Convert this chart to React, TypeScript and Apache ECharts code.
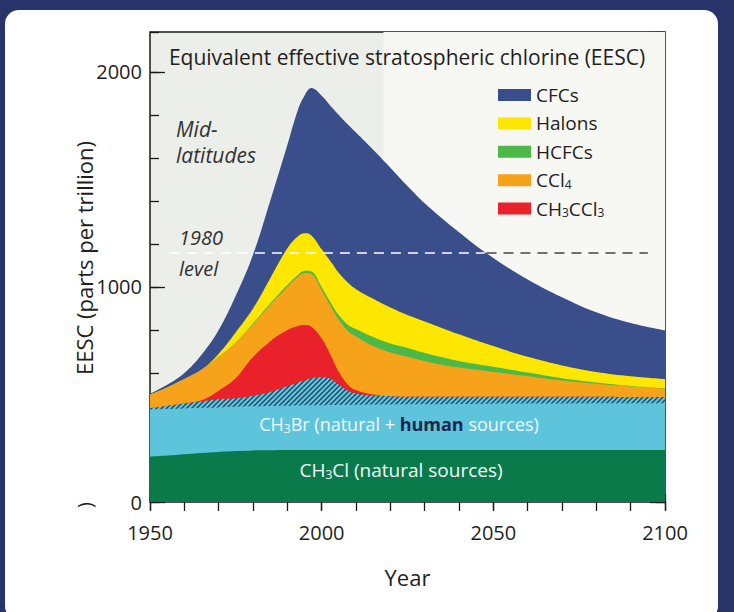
import React, { useEffect, useRef } from "react";
import * as echarts from "echarts";

const years = [1950,1955,1960,1965,1970,1975,1980,1985,1990,1993,1995,1997,2000,2003,2005,2008,2010,2015,2020,2025,2030,2040,2050,2060,2070,2080,2090,2100];
const ch3cl = [211,216,222,228,233,237,240,241,242,242,242,242,242,242,242,242,242,242,242,242,242,242,242,242,242,242,242,242];
const ch3brNatural = [219,216,213,210,207,206,205,206,206,207,208,208,208,209,209,210,210,211,212,213,213,214,215,216,216,217,217,217];
const ch3brHuman = [7,15,23,30,38,39,49,65,90,106,115,125,130,119,94,63,53,42,38,35,35,33,32,31,31,30,29,29];
const ch3ccl3 = [0,0,0,5,40,95,180,235,262,263,258,240,180,100,60,25,15,5,0,0,0,0,0,0,0,0,0,0];
const ccl4 = [63,86,114,142,157,163,151,169,200,227,242,245,225,230,242,250,250,225,203,185,165,136,116,96,76,61,49,39];
const hcfcs = [0,0,0,0,0,2,5,7,9,10,11,12,14,18,22,30,35,42,42,41,38,31,24,17,11,6,3,2];
const halons = [0,0,0,0,15,48,70,117,171,180,174,168,176,192,196,195,185,178,168,154,147,124,96,73,59,49,45,43];
const cfcs = [3,12,28,70,110,170,250,360,480,585,640,685,715,725,735,735,728,693,650,600,550,475,410,360,317,277,247,226];

const level1980 = 1160;
const yTicks = [0, 1000, 2000];
const xTicks = [1950, 2000, 2050, 2100];

const FONT = "'Open Sans', 'Noto Sans', sans-serif";
const TXT = "#231f20";

function hatchCanvas() {
  const c = document.createElement("canvas");
  c.width = 5;
  c.height = 5;
  const g = c.getContext("2d")!;
  g.fillStyle = "#64c6dc";
  g.fillRect(0, 0, 5, 5);
  g.strokeStyle = "#1b4665";
  g.lineWidth = 1.4;
  g.beginPath();
  g.moveTo(-1, 6);
  g.lineTo(6, -1);
  g.moveTo(-1, 1);
  g.lineTo(1, -1);
  g.moveTo(4, 6);
  g.lineTo(6, 4);
  g.stroke();
  return c;
}

export default function App() {
  const ref = useRef<HTMLDivElement>(null);
  useEffect(() => {
    if (!ref.current) return;
    const chart = echarts.init(ref.current, undefined, { renderer: "svg" });
    // layers bottom → top
    const layers: [string, number[], any][] = [
      ["CH3Cl", ch3cl, "#0b7a4b"],
      ["CH3Br natural", ch3brNatural, "#5ec4dc"],
      ["CH3Br human", ch3brHuman, { image: hatchCanvas(), repeat: "repeat" }],
      ["CH3CCl3", ch3ccl3, "#e8212a"],
      ["CCl4", ccl4, "#f7a21b"],
      ["HCFCs", hcfcs, "#4cb848"],
      ["Halons", halons, "#fde600"],
      ["CFCs", cfcs, "#3a4e8c"],
    ];
    const running = years.map(() => 0);
    const tops = layers.map(([name, arr, color]) => {
      arr.forEach((v, i) => (running[i] += v));
      return { name, color, top: running.slice() };
    });
    // draw from the top layer down so each lower layer paints over the one above
    const areaSeries = tops
      .slice()
      .reverse()
      .map(({ name, color, top }) => ({
        name,
        type: "line",
        data: years.map((y, i) => [y, top[i]]),
        smooth: 0.4,
        symbol: "none",
        lineStyle: { width: 0 },
        areaStyle: { color, opacity: 1 },
        itemStyle: { color: typeof color === "string" ? color : "#64c6dc" },
        z: 3,
      }));
    const subRich = {
      t: { fontFamily: FONT, fontSize: 19, color: TXT, lineHeight: 20 },
      sub: { fontFamily: FONT, fontSize: 12, color: TXT, lineHeight: 20, padding: [8, 0, 0, 0] },
    };
    const legendNames: Record<string, string> = {
      CFCs: "{t|CFCs}",
      Halons: "{t|Halons}",
      HCFCs: "{t|HCFCs}",
      CCl4: "{t|CCl}{sub|4}",
      CH3CCl3: "{t|CH}{sub|3}{t|CCl}{sub|3}",
    };
    const tickStyle = { color: "#1a1a1a", width: 1.3 };
    const xBase = { type: "value", min: 1950, max: 2100, axisLine: { show: false }, splitLine: { show: false } };
    const yBase = { type: "value", min: 0, max: 2186, axisLine: { show: false }, splitLine: { show: false } };
    const option: any = {
      animation: false,
      backgroundColor: "transparent",
      grid: {
        left: 150, right: 69, top: 32, bottom: 110,
        show: true, backgroundColor: "#eceee9", borderColor: "#1a1a1a", borderWidth: 1.5,
      },
      xAxis: [
        { ...xBase, position: "bottom", interval: 10, axisTick: { inside: true, length: 8, lineStyle: tickStyle }, axisLabel: { show: false } },
        {
          ...xBase, position: "bottom", interval: 50,
          axisTick: { inside: false, length: 8, lineStyle: tickStyle },
          axisLabel: { show: true, margin: 20, fontFamily: FONT, fontSize: 20, color: TXT, formatter: (v: number) => (xTicks.includes(v) ? String(v) : "") },
          name: "Year", nameLocation: "middle", nameGap: 64,
          nameTextStyle: { fontFamily: FONT, fontSize: 22, color: TXT },
        },
        { ...xBase, position: "top", interval: 10, axisTick: { inside: true, length: 9, lineStyle: tickStyle }, axisLabel: { show: false } },
      ],
      yAxis: [
        { ...yBase, position: "left", interval: 200, axisTick: { inside: true, length: 9, lineStyle: tickStyle }, axisLabel: { show: false } },
        {
          ...yBase, position: "left", interval: 1000,
          axisTick: { inside: true, length: 15, lineStyle: tickStyle },
          axisLabel: { show: true, margin: 8, showMaxLabel: false, fontFamily: FONT, fontSize: 20, color: TXT, formatter: (v: number) => (yTicks.includes(v) ? String(v) : "") },
        },
        { ...yBase, position: "right", interval: 200, axisTick: { inside: true, length: 9, lineStyle: tickStyle }, axisLabel: { show: false } },
        { ...yBase, position: "right", interval: 1000, axisTick: { inside: true, length: 15, lineStyle: tickStyle }, axisLabel: { show: false } },
      ],
      legend: {
        data: ["CFCs", "Halons", "HCFCs", "CCl4", "CH3CCl3"],
        orient: "vertical",
        left: 498,
        top: 85,
        padding: 0,
        itemWidth: 33,
        itemHeight: 12,
        itemGap: 8.4,
        icon: "rect",
        selectedMode: false,
        formatter: (n: string) => legendNames[n] || n,
        textStyle: { fontFamily: FONT, fontSize: 19, color: TXT, lineHeight: 20, rich: subRich },
      },
      series: [
        {
          name: "bgLight",
          type: "line",
          data: [],
          z: 1,
          markArea: {
            silent: true,
            itemStyle: { color: "#f7f7f4" },
            data: [[{ xAxis: 2018 }, { xAxis: 2100 }]],
          },
        },
        ...areaSeries,
        {
          name: "level",
          type: "line",
          data: [],
          z: 6,
          markLine: {
            silent: true,
            symbol: "none",
            label: { show: false },
            data: [
              [{ coord: [1955.8, level1980], lineStyle: { color: "#ffffff", type: [10, 7], width: 1.6 } }, { coord: [2047.5, level1980] }],
              [{ coord: [2048, level1980], lineStyle: { color: "#444", type: [10, 7], width: 1.6 } }, { coord: [2095, level1980] }],
            ],
          },
        },
      ],
      graphic: [
        { type: "text", x: 407, y: 57, z: 20, style: { text: "Equivalent effective stratospheric chlorine (EESC)", fontFamily: FONT, fontSize: 21, fill: TXT, align: "center", verticalAlign: "middle", textAlign: "center", textVerticalAlign: "middle" } },
        { type: "text", x: 176, y: 129, z: 20, style: { text: "Mid-", fontFamily: FONT, fontSize: 21, fontStyle: "italic", fill: "#333", align: "left", verticalAlign: "middle", textAlign: "left", textVerticalAlign: "middle" } },
        { type: "text", x: 176, y: 155, z: 20, style: { text: "latitudes", fontFamily: FONT, fontSize: 21, fontStyle: "italic", fill: "#333", align: "left", verticalAlign: "middle", textAlign: "left", textVerticalAlign: "middle" } },
        { type: "text", x: 179, y: 237, z: 20, style: { text: "1980", fontFamily: FONT, fontSize: 20, fontStyle: "italic", fill: "#333", align: "left", verticalAlign: "middle", textAlign: "left", textVerticalAlign: "middle" } },
        { type: "text", x: 179, y: 268, z: 20, style: { text: "level", fontFamily: FONT, fontSize: 20, fontStyle: "italic", fill: "#333", align: "left", verticalAlign: "middle", textAlign: "left", textVerticalAlign: "middle" } },
        {
          type: "text", x: 399, y: 424, z: 20,
          style: {
            text: "{w|CH}{s|3}{w|Br (natural + }{d|human}{w| sources)}",
            align: "center", verticalAlign: "middle", textAlign: "center", textVerticalAlign: "middle",
            rich: {
              w: { fontFamily: FONT, fontSize: 18, fill: "#f4fbfd", color: "#f4fbfd", lineHeight: 20 },
              d: { fontFamily: FONT, fontSize: 18, fill: "#1c2550", color: "#1c2550", fontWeight: "bold", lineHeight: 20 },
              s: { fontFamily: FONT, fontSize: 12, fill: "#f4fbfd", color: "#f4fbfd", lineHeight: 20, padding: [8, 0, 0, 0] },
            },
          },
        },
        {
          type: "text", x: 401, y: 470, z: 20,
          style: {
            text: "{w|CH}{s|3}{w|Cl (natural sources)}",
            align: "center", verticalAlign: "middle", textAlign: "center", textVerticalAlign: "middle",
            rich: {
              w: { fontFamily: FONT, fontSize: 19, fill: "#f4fbfd", color: "#f4fbfd", lineHeight: 20 },
              s: { fontFamily: FONT, fontSize: 12, fill: "#f4fbfd", color: "#f4fbfd", lineHeight: 20, padding: [8, 0, 0, 0] },
            },
          },
        },
        { type: "text", x: 84, y: 258, rotation: Math.PI / 2, z: 20, style: { text: "EESC (parts per trillion)", fontFamily: FONT, fontSize: 22, fill: TXT, align: "center", verticalAlign: "middle", textAlign: "center", textVerticalAlign: "middle" } },
        { type: "text", x: 84, y: 505, rotation: Math.PI / 2, z: 20, style: { text: ")", fontFamily: FONT, fontSize: 20, fill: TXT, align: "center", verticalAlign: "middle", textAlign: "center", textVerticalAlign: "middle" } },
      ],
    };
    chart.setOption(option);
    return () => chart.dispose();
  }, []);
  return (
    <div style={{ position: "fixed", left: 0, top: 0, width: 734, height: 612, background: "#273369", overflow: "hidden" }}>
      <div style={{ position: "absolute", left: 5, top: 10, width: 713, height: 610, background: "#ffffff", borderRadius: 14 }} />
      <div ref={ref} style={{ position: "absolute", left: 0, top: 0, width: 734, height: 612 }} />
    </div>
  );
}
